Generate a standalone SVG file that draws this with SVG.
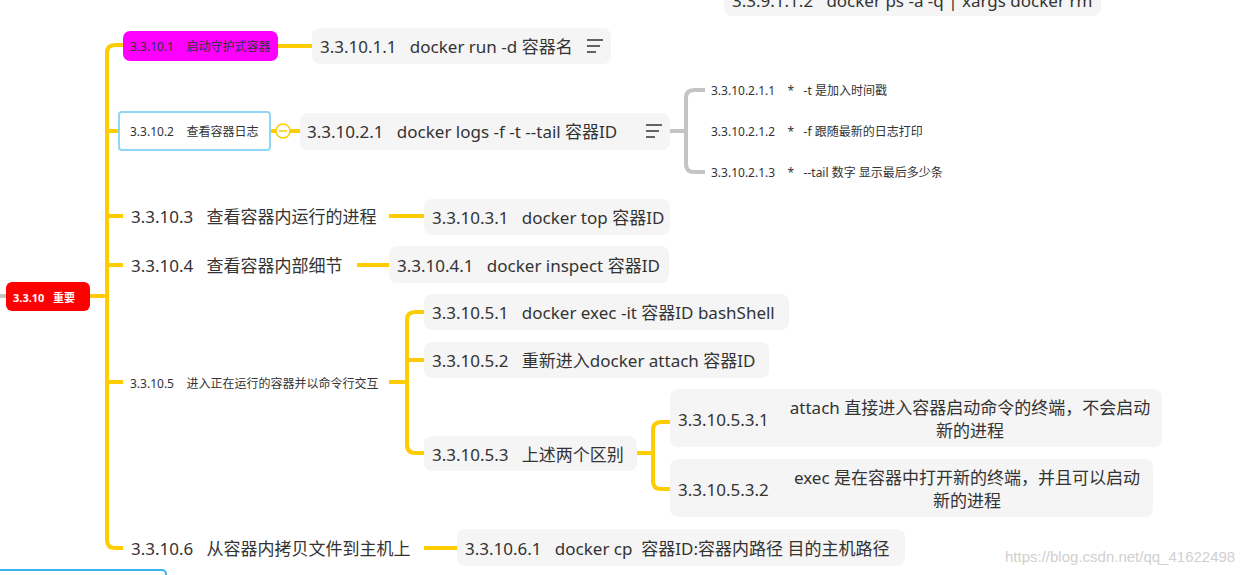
<svg xmlns="http://www.w3.org/2000/svg" width="1258" height="575" viewBox="0 0 1258 575" xml:space="preserve">
<style>
.t{font-family:"Noto Sans","Noto Sans CJK SC",sans-serif;fill:#333;dominant-baseline:central;white-space:pre}
.b{font-size:17px}.s{font-size:12px}
.n{fill:#f5f5f5}
.y{fill:none;stroke:#FFCC00;stroke-width:4;stroke-linejoin:round}
.g{fill:none;stroke:#c4c4c4;stroke-width:4}
</style>
<rect width="1258" height="575" fill="#fff"/>
<g id="connectors">
<path class="g" d="M0 296H6"/>
<path class="y" d="M90 296H107M123 45H115Q107 45 107 53V540Q107 548 115 548H123M107 131H119M107 216H123M107 265H123M107 382H123"/>
<path class="y" d="M278 46H312M270 131H276M290 131H300M389 216H424M357 265H389M389 382H407M424 312H415Q407 312 407 320V444Q407 453 415 453H424M407 360H424M637 453H653M670 422H661Q653 422 653 430V481Q653 489 661 489H670M424 548H457"/>
<path class="g" d="M670 131H686M705 90H694Q686 90 686 98V164Q686 172 694 172H705"/>
</g>
<g id="top"><rect class="n" x="724" y="-20" width="377" height="36" rx="8"/><text class="t b" x="732" y="0">3.3.9.1.1.2   docker ps -a -q | xargs docker rm</text></g>
<g id="root"><rect x="6" y="282" width="84" height="29" rx="6" fill="#f00"/><text class="t" x="13" y="297" font-size="11" font-weight="bold" style="fill:#fff">3.3.10   重要</text></g>
<g id="n1"><rect x="123" y="31" width="155" height="30" rx="7" fill="#f0f"/><text class="t s" x="130" y="46">3.3.10.1    启动守护式容器</text></g>
<g id="n11"><rect class="n" x="312" y="28" width="299" height="36" rx="8"/><text class="t b" x="320" y="46">3.3.10.1.1   docker run -d 容器名</text><path d="M587 40H603M587 46H600M587 52H596" stroke="#333" stroke-width="1.5"/></g>
<g id="n2"><rect x="119" y="112" width="151" height="38" rx="3" fill="#fff" stroke="#8fd6f7" stroke-width="2"/><text class="t s" x="130" y="131">3.3.10.2    查看容器日志</text><circle cx="283" cy="131" r="7" fill="#fff" stroke="#FFCC00" stroke-width="1.5"/><path d="M279 131H287" stroke="#FFCC00" stroke-width="1.5"/></g>
<g id="n21"><rect class="n" x="300" y="113" width="370" height="37" rx="8"/><text class="t b" x="307" y="131">3.3.10.2.1   docker logs -f -t --tail 容器ID</text><path d="M646 125H662M646 131H659M646 137H655" stroke="#333" stroke-width="1.5"/></g>
<g id="n211"><text class="t s" x="711" y="90">3.3.10.2.1.1    *   -t 是加入时间戳</text></g>
<g id="n212"><text class="t s" x="711" y="131">3.3.10.2.1.2    *   -f 跟随最新的日志打印</text></g>
<g id="n213"><text class="t s" x="711" y="172">3.3.10.2.1.3    *   --tail 数字 显示最后多少条</text></g>
<g id="n3"><text class="t b" x="131" y="216">3.3.10.3   查看容器内运行的进程</text></g>
<g id="n31"><rect class="n" x="424" y="199" width="246" height="36" rx="8"/><text class="t b" x="432" y="217">3.3.10.3.1   docker top 容器ID</text></g>
<g id="n4"><text class="t b" x="131" y="265">3.3.10.4   查看容器内部细节</text></g>
<g id="n41"><rect class="n" x="389" y="246" width="280" height="37" rx="8"/><text class="t b" x="397" y="265">3.3.10.4.1   docker inspect 容器ID</text></g>
<g id="n5"><text class="t s" x="130" y="383">3.3.10.5    进入正在运行的容器并以命令行交互</text></g>
<g id="n51"><rect class="n" x="424" y="294" width="365" height="36" rx="8"/><text class="t b" x="432" y="312">3.3.10.5.1   docker exec -it 容器ID bashShell</text></g>
<g id="n52"><rect class="n" x="424" y="342" width="345" height="36" rx="8"/><text class="t b" x="432" y="360">3.3.10.5.2   重新进入docker attach 容器ID</text></g>
<g id="n53"><rect class="n" x="424" y="436" width="213" height="35" rx="8"/><text class="t b" x="432" y="454">3.3.10.5.3   上述两个区别</text></g>
<g id="n531"><rect class="n" x="670" y="389" width="492" height="58" rx="8"/><text class="t b" x="678" y="419">3.3.10.5.3.1</text><text class="t b" x="970" y="407" text-anchor="middle">attach 直接进入容器启动命令的终端，不会启动</text><text class="t b" x="970" y="430" text-anchor="middle">新的进程</text></g>
<g id="n532"><rect class="n" x="670" y="459" width="483" height="58" rx="8"/><text class="t b" x="678" y="489">3.3.10.5.3.2</text><text class="t b" x="967" y="477" text-anchor="middle">exec 是在容器中打开新的终端，并且可以启动</text><text class="t b" x="967" y="500" text-anchor="middle">新的进程</text></g>
<g id="n6"><text class="t b" x="131" y="548">3.3.10.6   从容器内拷贝文件到主机上</text></g>
<g id="n61"><rect class="n" x="457" y="529" width="448" height="37" rx="8"/><text class="t b" x="465" y="548">3.3.10.6.1   docker cp  容器ID:容器内路径 目的主机路径</text></g>
<g id="bottom"><rect x="-10" y="570" width="176" height="30" rx="4" fill="#fff" stroke="#3cb4f0" stroke-width="2"/></g>
<text x="1005" y="556" font-family="Liberation Sans,sans-serif" font-size="15" fill="#d0d0d0" dominant-baseline="central">https://blog.csdn.net/qq_41622498</text>
</svg>
